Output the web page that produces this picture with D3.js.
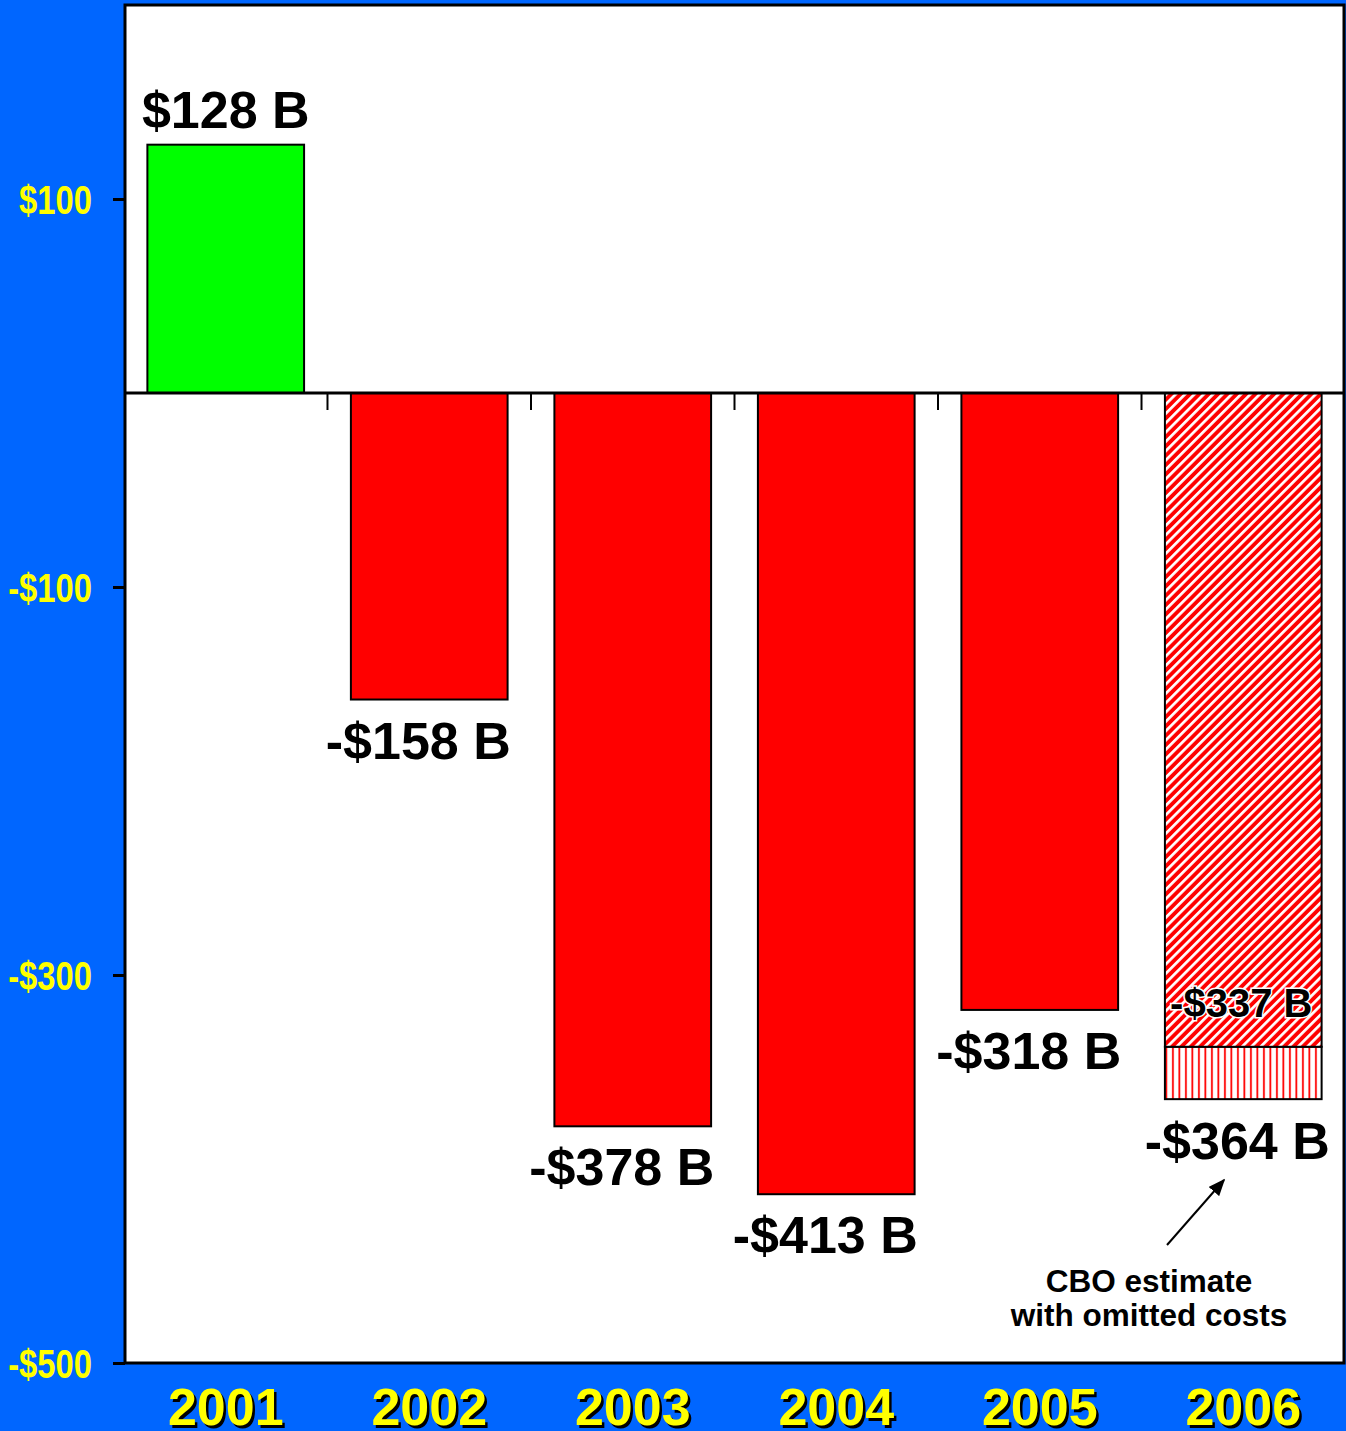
<!DOCTYPE html>
<html><head><meta charset="utf-8">
<script src="https://cdn.jsdelivr.net/npm/d3@7"></script>
<style>html,body{margin:0;padding:0;background:#0066FF;}svg{display:block;}</style>
</head><body>
<svg id="c" width="1346" height="1431"></svg>
<script>
const years = ["2001","2002","2003","2004","2005","2006"];
const values = [128, -158, -378, -413, -318, -337];
const labels = ["$128 B","-$158 B","-$378 B","-$413 B","-$318 B","-$337 B"];
const extraYear = "2006";
const extraValue = -364;
const extraLabel = "-$364 B";
const yTicks = [100, -100, -300, -500];
const yTickLabels = ["$100","-$100","-$300","-$500"];
const noteLines = ["CBO estimate","with omitted costs"];

const svg = d3.select("#c");
const W = 1346, H = 1431;
const m = {left:125, right:2, top:5, bottom:68};
const x = d3.scaleBand().domain(years).range([m.left, W - m.right]).paddingInner(0.23).paddingOuter(0.11);
const y = d3.scaleLinear().domain([-500, 200]).range([H - m.bottom, m.top]);

svg.append("rect").attr("width",W).attr("height",H).attr("fill","#0066FF");

const defs = svg.append("defs");
const P = 6.6;
const diag = defs.append("pattern").attr("id","diag").attr("patternUnits","userSpaceOnUse")
  .attr("width",P).attr("height",P).attr("patternTransform","rotate(45)");
diag.append("rect").attr("width",P).attr("height",P).attr("fill","#FF0000");
diag.append("rect").attr("x",0).attr("width",2.7).attr("height",P).attr("fill","#FFFFFF");
const vert = defs.append("pattern").attr("id","vert").attr("patternUnits","userSpaceOnUse")
  .attr("width",6.5).attr("height",10);
vert.append("rect").attr("width",6.5).attr("height",10).attr("fill","#FFFFFF");
vert.append("rect").attr("x",2).attr("width",1.8).attr("height",10).attr("fill","#FF0000");
const mk = defs.append("marker").attr("id","arr").attr("viewBox","0 0 10 10").attr("refX",9).attr("refY",5)
  .attr("markerWidth",17).attr("markerHeight",14).attr("orient","auto").attr("markerUnits","userSpaceOnUse")
  .attr("preserveAspectRatio","none");
mk.append("path").attr("d","M0,0 L10,5 L0,10 Z").attr("fill","#000");

// plot area
svg.append("rect").attr("x",m.left).attr("y",m.top).attr("width",W-m.right-m.left).attr("height",y(-500)-m.top)
  .attr("fill","#fff").attr("stroke","#000").attr("stroke-width",3);

// extra (vertical hatch) part of 2006
svg.append("rect").attr("x",x(extraYear)).attr("y",y(values[5])).attr("width",x.bandwidth())
  .attr("height",y(extraValue)-y(values[5])).attr("fill","url(#vert)").attr("stroke","#000").attr("stroke-width",2);

// bars
svg.selectAll("rect.bar").data(years).join("rect").attr("class","bar")
  .attr("x",d=>x(d)).attr("width",x.bandwidth())
  .attr("y",(d,i)=>y(Math.max(0,values[i])))
  .attr("height",(d,i)=>Math.abs(y(values[i])-y(0)))
  .attr("fill",(d,i)=> i===0 ? "#00FF00" : (d===extraYear ? "url(#diag)" : "#FF0000"))
  .attr("stroke","#000").attr("stroke-width",2);

// zero line
svg.append("line").attr("x1",m.left).attr("x2",W-m.right).attr("y1",y(0)).attr("y2",y(0)).attr("stroke","#000").attr("stroke-width",3);
// x ticks between categories
const step = x.step();
years.slice(1).forEach(d=>{
  const xx = x(d) - (step - x.bandwidth())/2;
  svg.append("line").attr("x1",xx).attr("x2",xx).attr("y1",y(0)).attr("y2",y(0)+17).attr("stroke","#000").attr("stroke-width",2);
});

// y axis
const ya = d3.axisLeft(y).tickValues(yTicks).tickFormat((d,i)=>yTickLabels[i]).tickSize(12).tickPadding(18);
const gy = svg.append("g").attr("transform",`translate(${m.left},0)`).call(ya);
gy.select(".domain").remove();
gy.selectAll(".tick line").attr("stroke","#000").attr("stroke-width",3);
const sx = 0.82;
gy.selectAll(".tick text").attr("fill","#FFFF00").attr("font-family","'Liberation Sans Narrow','Liberation Sans',Arial,sans-serif")
  .attr("font-weight","bold").attr("font-size",40).attr("text-anchor","end")
  .attr("x",-33/sx).attr("dy","0.35em").attr("transform",`scale(${sx},1)`);

// value labels
const lf = "'Liberation Sans',Arial,sans-serif";
years.forEach((d,i)=>{
  if (d===extraYear) return;
  const v = values[i];
  const cx = x(d)+x.bandwidth()/2 + (v<0 ? -11 : 0);
  const yy = v>=0 ? y(v)-17 : y(v)+59;
  svg.append("text").attr("x",cx).attr("y",yy).attr("text-anchor","middle").attr("font-family",lf)
    .attr("font-weight","bold").attr("font-size",52).attr("fill","#000").text(labels[i]);
});
// 2006 labels
const cx6 = x(extraYear)+x.bandwidth()/2;
svg.append("text").attr("x",cx6-2).attr("y",y(values[5])-30).attr("text-anchor","middle").attr("font-family",lf)
  .attr("font-weight","bold").attr("font-size",40).attr("fill","#000").attr("stroke","#fff").attr("stroke-width",3)
  .attr("paint-order","stroke").text(labels[5]);
svg.append("text").attr("x",cx6-6).attr("y",y(extraValue)+60).attr("text-anchor","middle").attr("font-family",lf)
  .attr("font-weight","bold").attr("font-size",52).attr("fill","#000").text(extraLabel);

// year labels
const xa = svg.append("g");
years.forEach(d=>{
  const cx = x(d)+x.bandwidth()/2;
  xa.append("text").attr("x",cx+2.5).attr("y",1425+2.5).attr("text-anchor","middle").attr("font-family",lf)
    .attr("font-weight","bold").attr("font-size",52).attr("fill","#000").text(d);
  xa.append("text").attr("x",cx).attr("y",1425).attr("text-anchor","middle").attr("font-family",lf)
    .attr("font-weight","bold").attr("font-size",52).attr("fill","#FFFF00").text(d);
});

// annotation
svg.append("line").attr("x1",1167).attr("y1",1245).attr("x2",1224).attr("y2",1180)
  .attr("stroke","#000").attr("stroke-width",2).attr("marker-end","url(#arr)");
noteLines.forEach((t,i)=>{
  svg.append("text").attr("x",1149).attr("y",1292+i*34).attr("text-anchor","middle").attr("font-family",lf)
    .attr("font-weight","bold").attr("font-size",31.5).attr("fill","#000").text(t);
});
</script>
</body></html>
